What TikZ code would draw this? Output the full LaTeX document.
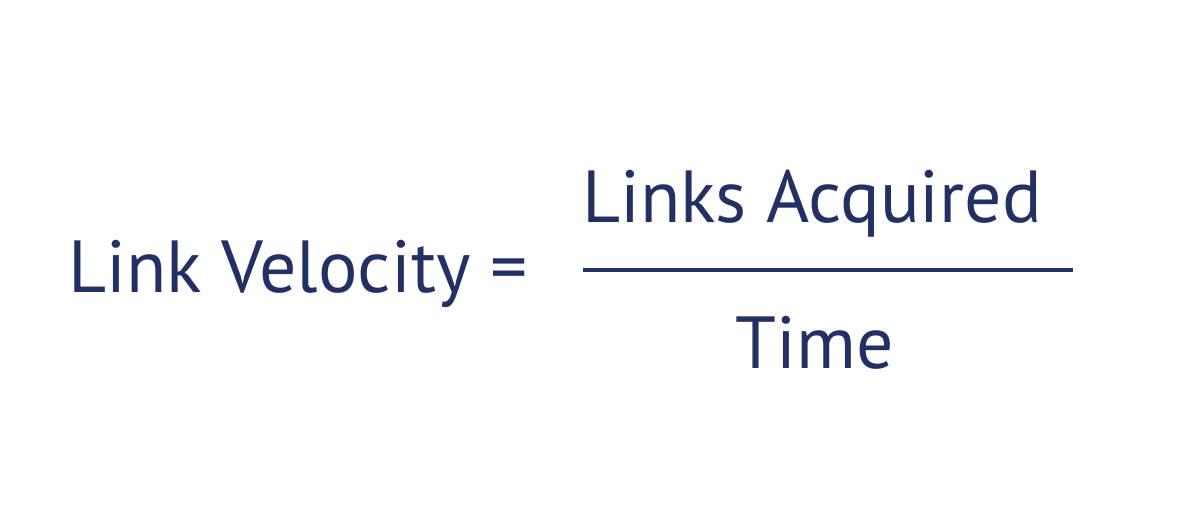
\documentclass[tikz,border=0pt]{standalone}
\usepackage{fontspec}
\setmainfont{PT Sans}
\usetikzlibrary{positioning}
\definecolor{navy}{HTML}{233063}
\tikzset{eqtext/.style={text=navy,font=\fontsize{42}{50}\selectfont,inner sep=0pt}}

\begin{document}
\begin{tikzpicture}[x=0.02cm,y=-0.02cm]
    \useasboundingbox (0,0) rectangle (1200,527);
    \node [eqtext,anchor=base west] (lhs) at (68,292) {Link Velocity =};
    \coordinate (barl) at (583,270);
    \coordinate (barr) at (1073,270);
    \draw [navy,line width=2.2pt] (barl) -- (barr);
    \node [eqtext,anchor=base] (num) at (812,222) {Links Acquired};
    \node [eqtext,anchor=base] (den) at (815,368) {Time};
\end{tikzpicture}
\end{document}
